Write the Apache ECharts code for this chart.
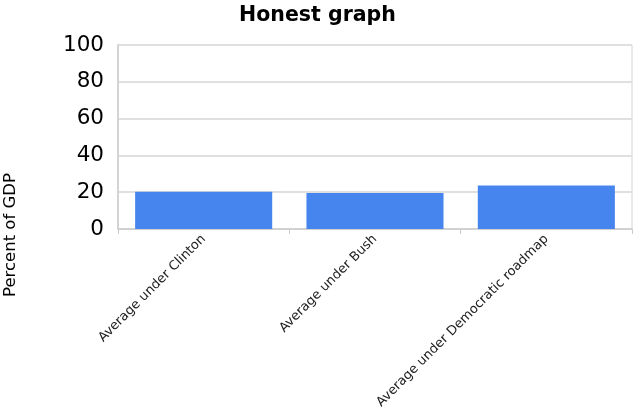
<!DOCTYPE html>
<html><head><meta charset="utf-8">
<script src="https://cdn.jsdelivr.net/npm/echarts@6/dist/echarts.min.js"></script>
<style>html,body{margin:0;padding:0;background:#fff}#c{width:635px;height:414px}</style>
</head><body><div id="c"></div>
<script>
const categories = ['Average under Clinton', 'Average under Bush', 'Average under Democratic roadmap'];
const values = [20.2, 19.6, 23.7];
const yTicks = [0, 20, 40, 60, 80, 100];

const chart = echarts.init(document.getElementById('c'), null, {renderer: 'canvas'});
chart.setOption({
  animation: false,
  backgroundColor: '#fff',
  title: {
    text: 'Honest graph', left: 'center', top: 0,
    textStyle: {fontFamily: 'DejaVu Sans', fontWeight: 'bold', fontSize: 20.5, color: '#000'}
  },
  graphic: [{
    type: 'text', x: 2, y: 235, rotation: Math.PI / 2,
    style: {text: 'Percent of GDP', fontFamily: 'DejaVu Sans', fontSize: 16.5, fill: '#000',
      textAlign: 'center', textVerticalAlign: 'top'}
  }],
  grid: {left: 118, right: 3, top: 45, bottom: 185, show: true, borderColor: '#d4d4d4', borderWidth: 1},
  xAxis: {
    type: 'category', data: categories,
    axisLine: {lineStyle: {color: '#cccccc', width: 1.5}},
    axisTick: {show: true, length: 5, lineStyle: {color: '#cccccc'}},
    axisLabel: {rotate: 45, interval: 0, margin: 8, fontFamily: 'DejaVu Sans', fontSize: 13, color: '#222'}
  },
  yAxis: {
    type: 'value', min: yTicks[0], max: yTicks[yTicks.length - 1], interval: 20,
    axisLine: {show: true, lineStyle: {color: '#d4d4d4', width: 2}},
    axisTick: {show: false},
    splitLine: {lineStyle: {color: '#e0e0e0', width: 2}},
    axisLabel: {fontFamily: 'DejaVu Sans', fontSize: 21.5, color: '#000', margin: 14}
  },
  series: [{
    type: 'bar', data: values, barCategoryGap: '20%',
    itemStyle: {color: '#4684ee'}
  }]
});
</script></body></html>
